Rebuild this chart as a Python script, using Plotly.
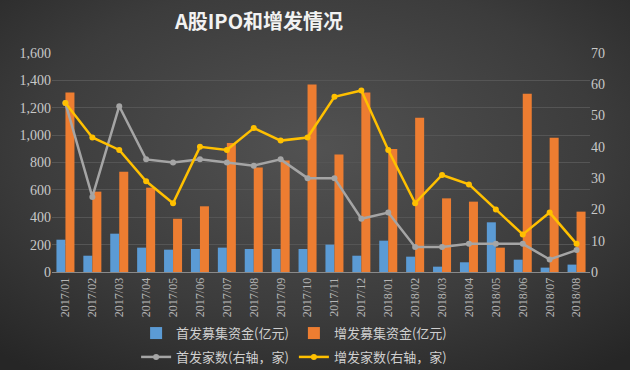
import base64
import plotly.graph_objects as go

months = ["2017/01", "2017/02", "2017/03", "2017/04", "2017/05", "2017/06", "2017/07",
          "2017/08", "2017/09", "2017/10", "2017/11", "2017/12", "2018/01", "2018/02",
          "2018/03", "2018/04", "2018/05", "2018/06", "2018/07", "2018/08"]
ipo_funds = [236, 119, 280, 178, 163, 168, 178, 168, 168, 168, 200, 119, 229, 112,
             39, 71, 363, 90, 32, 54]
seo_funds = [1312, 587, 733, 616, 389, 480, 942, 764, 815, 1370, 859, 1312, 898, 1127,
             538, 514, 178, 1302, 981, 441]
ipo_count = [54, 24, 53, 36, 35, 36, 35, 34, 36, 30, 30, 17, 19, 8, 8, 9, 9, 9, 4, 7]
seo_count = [54, 43, 39, 29, 22, 40, 39, 46, 42, 43, 56, 58, 39, 22, 31, 28, 20, 12, 19, 9]

W, H = 630, 370
ML, MR, MT, MB = 52, 40, 53, 98
PW, PH = W - ML - MR, H - MT - MB

svg = f'''<svg xmlns="http://www.w3.org/2000/svg" width="{W}" height="{H}" viewBox="0 0 {W} {H}" preserveAspectRatio="none">
<defs><radialGradient id="g" cx="50%" cy="40%" r="75%">
<stop offset="0" stop-color="#525252"/><stop offset="0.6" stop-color="#3c3c3c"/><stop offset="1" stop-color="#262626"/>
</radialGradient></defs>
<rect x="0" y="0" width="{W}" height="{H}" fill="url(#g)"/></svg>'''
bg_src = "data:image/svg+xml;base64," + base64.b64encode(svg.encode()).decode()

serif = "Liberation Serif, Noto Sans CJK SC, serif"
cjk = "Noto Sans CJK SC, Liberation Serif, serif"

fig = go.Figure()
fig.add_trace(go.Bar(x=months, y=ipo_funds, name="首发募集资金(亿元)",
                     marker=dict(color="#5b9bd5", line_width=0), legend="legend"))
fig.add_trace(go.Bar(x=months, y=seo_funds, name="增发募集资金(亿元)",
                     marker=dict(color="#ed7d31", line_width=0), legend="legend"))
fig.add_trace(go.Scatter(x=months, y=ipo_count, name="首发家数(右轴，家)", yaxis="y2",
                         mode="lines+markers", line=dict(color="#a5a5a5", width=2.5),
                         marker=dict(size=6, color="#a5a5a5"), legend="legend2"))
fig.add_trace(go.Scatter(x=months, y=seo_count, name="增发家数(右轴，家)", yaxis="y2",
                         mode="lines+markers", line=dict(color="#ffc000", width=2.5),
                         marker=dict(size=6, color="#ffc000"), legend="legend2"))

legend_common = dict(orientation="h", xanchor="center", x=0.45, yanchor="middle",
                     font=dict(family=cjk, size=13, color="#cfcfcf"),
                     bgcolor="rgba(0,0,0,0)", itemwidth=30, tracegroupgap=0)

fig.update_layout(
    width=W, height=H,
    margin=dict(l=ML, r=MR, t=MT, b=MB, pad=0, autoexpand=False),
    paper_bgcolor="#333333", plot_bgcolor="rgba(0,0,0,0)",
    images=[dict(source=bg_src, xref="paper", yref="paper", x=-ML / PW, y=1 + MT / PH,
                 sizex=W / PW, sizey=H / PH, xanchor="left", yanchor="top",
                 sizing="stretch", layer="below")],
    title=dict(text="<b>A股IPO和增发情况</b>", x=259 / W, xanchor="center", y=1 - 22 / H,
               yanchor="middle", font=dict(family=cjk, size=20, color="#f2f2f2")),
    barmode="group", bargap=0.33, bargroupgap=0,
    showlegend=True,
    legend=dict(y=-0.279, **legend_common),
    legend2=dict(y=-0.388, **legend_common),
    xaxis=dict(type="category", range=[-0.5, len(months) - 0.5], tickangle=-90, automargin=False,
               tickfont=dict(family=serif, size=12, color="#b5b5b5"),
               showgrid=False, showline=True, linecolor="#8a8a8a", linewidth=1, ticks=""),
    yaxis=dict(range=[0, 1600], dtick=200, tickformat=",", showgrid=True, gridcolor="#555555",
               gridwidth=1, zeroline=False, showline=False, automargin=False,
               tickfont=dict(family=serif, size=14, color="#c8c8c8")),
    yaxis2=dict(range=[0, 70], dtick=10, overlaying="y", side="right", showgrid=False,
                zeroline=False, showline=False, automargin=False,
                tickfont=dict(family=serif, size=14, color="#c8c8c8")),
)

fig.write_html("out.html", config={"displayModeBar": False},
               post_script="document.body.style.margin='0';document.body.style.background='#2a2a2a';")
